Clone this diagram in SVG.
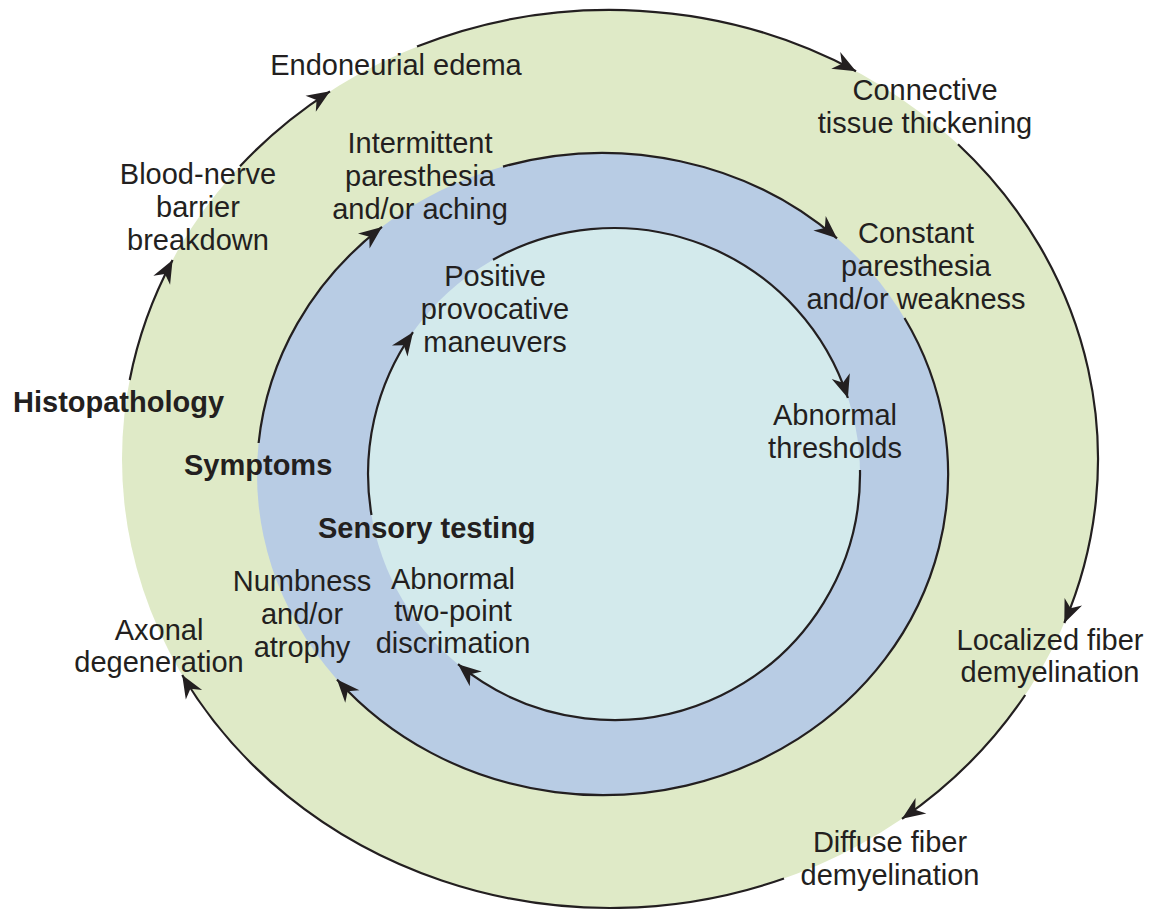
<svg xmlns="http://www.w3.org/2000/svg" width="1150" height="911" viewBox="0 0 1150 911">
<style>
  text { font-family: "Liberation Sans", Arial, Helvetica, sans-serif; font-size: 29px; fill: #231f20; text-anchor: middle; }
  text.cat { font-weight: bold; text-anchor: start; }
  .arc { fill: none; stroke: #231f20; stroke-width: 2.2; marker-end: url(#ah); }
</style>
<defs>
  <marker id="ah" viewBox="-24 -11 25 22" refX="0" refY="0" markerWidth="25" markerHeight="22" markerUnits="userSpaceOnUse" orient="auto">
    <path d="M0,0 L-23,-9.5 L-16,0 L-23,9.5 Z" fill="#231f20"/>
  </marker>
</defs>
<rect width="1150" height="911" fill="#ffffff"/>

<g id="ring-histopathology">
  <ellipse cx="610" cy="459" rx="488" ry="449" fill="#dfeac7"/>
  <text class="cat" x="13" y="412">Histopathology</text>
</g>
<g id="ring-symptoms">
  <ellipse cx="602.5" cy="474" rx="345.5" ry="321" fill="#b8cce4"/>
  <text class="cat" x="184" y="475">Symptoms</text>
</g>
<g id="ring-sensory">
  <circle cx="614" cy="474" r="246" fill="#d3eaec"/>
  <text class="cat" x="318" y="538">Sensory testing</text>
</g>

<g id="connectors">
  <path class="arc" d="M129.7,380 A488,449 0 0 1 172.6,260"/>
  <path class="arc" d="M240,166.2 A488,449 0 0 1 330,91.3"/>
  <path class="arc" d="M417,46.6 A488,449 0 0 1 856,71.2"/>
  <path class="arc" d="M958,144.2 A488,449 0 0 1 1064.3,623"/>
  <path class="arc" d="M1025.2,695 A488,449 0 0 1 902,818.8"/>
  <path class="arc" d="M784,878.5 A488,449 0 0 1 182.2,675"/>
  <path class="arc" d="M258.6,443 A345.5,321 0 0 1 382,226.9"/>
  <path class="arc" d="M503,166.6 A345.5,321 0 0 1 837,238.3"/>
  <path class="arc" d="M904.5,318 A345.5,321 0 0 1 337,679.4"/>
  <path class="arc" d="M371.5,515 A246,246 0 0 1 413,332.2"/>
  <path class="arc" d="M493,259.8 A246,246 0 0 1 847.9,398"/>
  <path class="arc" d="M860,470 A246,246 0 0 1 458,664.2"/>
</g>

<g id="node-endoneurial-edema">
  <text x="396" y="75">Endoneurial edema</text>
</g>
<g id="node-connective-tissue">
  <text x="925" y="100">Connective</text>
  <text x="925" y="133">tissue thickening</text>
</g>
<g id="node-localized-demyelination">
  <text x="1050" y="650">Localized fiber</text>
  <text x="1050" y="682">demyelination</text>
</g>
<g id="node-diffuse-demyelination">
  <text x="890" y="852">Diffuse fiber</text>
  <text x="890" y="885">demyelination</text>
</g>
<g id="node-axonal-degeneration">
  <text x="159" y="640">Axonal</text>
  <text x="159" y="672">degeneration</text>
</g>
<g id="node-blood-nerve">
  <text x="198" y="184">Blood-nerve</text>
  <text x="198" y="217">barrier</text>
  <text x="198" y="250">breakdown</text>
</g>
<g id="node-intermittent">
  <text x="420" y="153">Intermittent</text>
  <text x="420" y="186">paresthesia</text>
  <text x="420" y="219">and/or aching</text>
</g>
<g id="node-constant">
  <text x="916" y="243">Constant</text>
  <text x="916" y="276">paresthesia</text>
  <text x="916" y="309">and/or weakness</text>
</g>
<g id="node-numbness">
  <text x="302" y="591">Numbness</text>
  <text x="302" y="624">and/or</text>
  <text x="302" y="657">atrophy</text>
</g>
<g id="node-positive-provocative">
  <text x="495" y="286">Positive</text>
  <text x="495" y="319">provocative</text>
  <text x="495" y="352">maneuvers</text>
</g>
<g id="node-abnormal-thresholds">
  <text x="835" y="425">Abnormal</text>
  <text x="835" y="458">thresholds</text>
</g>
<g id="node-two-point">
  <text x="453" y="589">Abnormal</text>
  <text x="453" y="621">two-point</text>
  <text x="453" y="653">discrimation</text>
</g>
</svg>
